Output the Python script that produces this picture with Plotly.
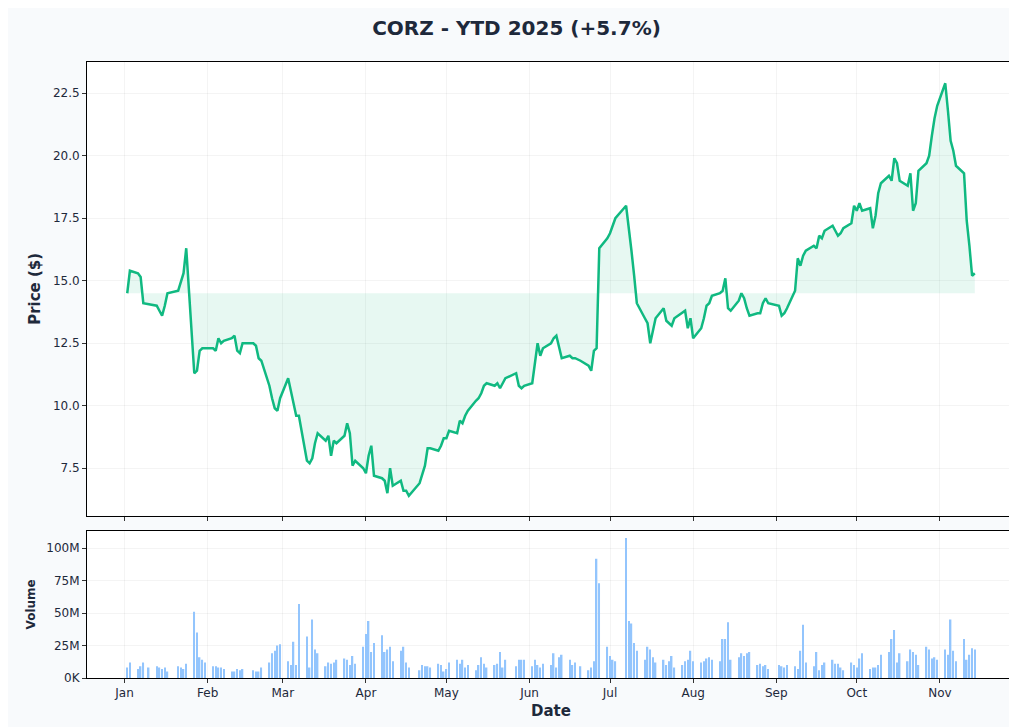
import pandas as pd
import plotly.graph_objects as go
from plotly.subplots import make_subplots

holidays = ["2025-01-09","2025-01-20","2025-02-17","2025-04-18","2025-05-26","2025-06-19","2025-07-04","2025-09-01"]
all_days = pd.bdate_range("2025-01-02", "2025-11-14")
dates = [d for d in all_days if d.strftime("%Y-%m-%d") not in holidays]

price_jan = [14.5,15.4,15.3,15.15,14.1,14.05,14.0,13.8,13.6,14.0,14.5,14.6,15.0,15.3,16.3,11.3,11.4,12.2,12.3,12.3]
price_rest = [
 12.3,12.2,12.7,12.5,12.6,12.7,12.8,12.2,12.1,12.5,
 12.5,12.4,11.9,11.8,10.8,10.3,9.9,9.8,10.3,
 11.1,10.6,10.1,9.6,9.6,7.8,7.7,7.9,8.5,8.9,
 8.6,8.8,8.0,8.6,8.5,8.8,9.3,8.9,7.6,
 7.8,7.5,7.3,8.0,8.4,7.2,7.1,7.0,6.5,7.5,
 6.8,7.0,6.6,6.6,6.4,6.9,7.3,7.6,8.3,
 8.3,8.2,8.4,8.7,8.7,9.0,8.9,9.4,9.3,
 9.6,9.8,10.2,10.3,10.5,10.8,10.9,10.8,10.9,
 10.7,10.9,11.1,11.3,10.8,10.7,10.8,10.9,11.7,
 12.5,12.0,12.3,12.5,12.7,12.8,12.3,11.9,12.0,
 11.9,11.9,11.8,11.6,11.4,12.2,12.3,16.3,16.7,16.9,
 17.2,17.5,18.0,17.2,16.2,15.2,14.1,13.5,13.3,12.5,
 13.0,13.5,13.9,13.4,13.3,13.2,13.5,13.7,
 13.8,13.1,13.5,12.7,13.1,13.5,14.0,14.1,14.4,
 14.5,14.6,15.1,13.9,13.8,14.2,14.5,14.3,13.9,13.6,
 13.7,13.7,14.1,14.3,14.1,14.0,13.6,13.7,
 13.9,14.6,15.9,15.6,16.0,16.2,16.4,16.3,16.8,16.7,
 17.0,17.2,17.0,16.8,16.9,17.1,17.3,18.0,17.8,
 18.1,17.8,17.9,17.1,17.6,18.5,18.9,19.2,19.0,
 19.9,19.7,19.0,18.8,19.3,17.8,18.1,19.4,19.7,
 20.0,20.8,21.5,22.0,22.9,21.8,20.6,20.2,
 19.6,19.3,17.4,16.4,15.2,15.3]
prices = price_jan + price_rest

vol_m = [
 8,12,7,9,12,8,9,8,7,8,5,9,8,7,11,51,35,16,14,12,
 9,9,8,8,7,5,5,7,6,7,6,5,5,8,12,19,21,25,26,
 13,10,28,10,57,32,8,45,22,19,9,12,11,12,14,15,14,10,17,11,24,
 34,44,20,27,33,20,22,24,13,21,24,12,8,6,10,9,9,8,11,10,5,
 7,12,14,11,14,8,10,6,10,16,11,8,10,11,20,8,14,9,14,14,14,
 9,14,10,8,11,10,19,8,16,18,14,10,12,9,6,8,13,92,73,24,
 17,14,13,108,44,42,27,21,14,24,22,16,12,14,10,13,17,8,10,13,14,21,
 13,12,13,15,16,14,13,30,30,43,14,16,19,17,19,20,10,11,9,10,7,
 10,9,8,10,9,7,21,41,12,9,20,6,10,12,14,11,11,8,6,12,10,
 8,15,19,7,8,8,10,18,20,30,37,12,19,13,22,20,18,10,24,22,15,16,14,
 22,18,45,21,13,30,14,18,23,22]

n = min(len(dates), len(prices))
dp = dates[:n]; prices = prices[:n]
nv = min(len(dates), len(vol_m))
dv = dates[:nv]; volumes = [v * 1e6 for v in vol_m[:nv]]
base = prices[0]

vol_ticks = [0, 25e6, 50e6, 75e6, 100e6]
vol_labels = ["0K", "25M", "50M", "75M", "100M"]
month_ticks = pd.date_range("2025-01-01", "2025-11-01", freq="MS")
month_labels = [d.strftime("%b") for d in month_ticks]

fig = make_subplots(rows=2, cols=1, shared_xaxes=True, vertical_spacing=0.0244,
                    row_heights=[0.755, 0.245])
fig.add_trace(go.Scatter(x=dp, y=[base]*n, mode="lines", line=dict(width=0),
                         hoverinfo="skip", showlegend=False), row=1, col=1)
fig.add_trace(go.Scatter(x=dp, y=prices, mode="lines", fill="tonexty",
                         fillcolor="rgba(16,185,129,0.1)",
                         line=dict(color="#10b981", width=2.5), showlegend=False), row=1, col=1)
fig.add_trace(go.Bar(x=dv, y=volumes, marker=dict(color="#93c5fd", line=dict(width=0)),
                     showlegend=False), row=2, col=1)

axis_common = dict(showline=True, linecolor="black", linewidth=1, mirror=True,
                   gridcolor="rgba(0,0,0,0.045)", ticks="outside", ticklen=4,
                   tickcolor="#333", tickfont=dict(size=12, color="#1e293b"), zeroline=False,
                   automargin=False)
fig.update_xaxes(**axis_common, range=["2024-12-18", "2025-11-29"],
                 tickvals=month_ticks, ticktext=month_labels)
fig.update_xaxes(showticklabels=False, row=1, col=1)
fig.update_xaxes(title=dict(text="<b>Date</b>", font=dict(size=15, color="#1e293b"), standoff=6),
                 row=2, col=1)
fig.update_yaxes(**axis_common)
fig.update_yaxes(range=[5.6, 23.75], tickvals=[7.5,10,12.5,15,17.5,20,22.5],
                 ticktext=["7.5","10.0","12.5","15.0","17.5","20.0","22.5"],
                 title=dict(text="<b>Price ($)</b>", font=dict(size=15, color="#1e293b"), standoff=8),
                 row=1, col=1)
fig.update_yaxes(range=[0, 113.5e6], tickvals=vol_ticks, ticktext=vol_labels,
                 title=dict(text="<b>Volume</b>", font=dict(size=12, color="#1e293b"), standoff=8),
                 row=2, col=1)

fig.update_layout(
    width=1017, height=727,
    margin=dict(l=79, r=10, t=54, b=57, autoexpand=False),
    paper_bgcolor="#f8fafc", plot_bgcolor="white",
    font=dict(family="DejaVu Sans", color="#1e293b"),
    title=dict(text="<b>CORZ - YTD 2025 (+5.7%)</b>", x=0.5, xanchor="center",
               y=0.973, yanchor="middle", font=dict(size=20, color="#1e293b"), automargin=False),
    bargap=0.45,
)
fig.write_html("out.html")
